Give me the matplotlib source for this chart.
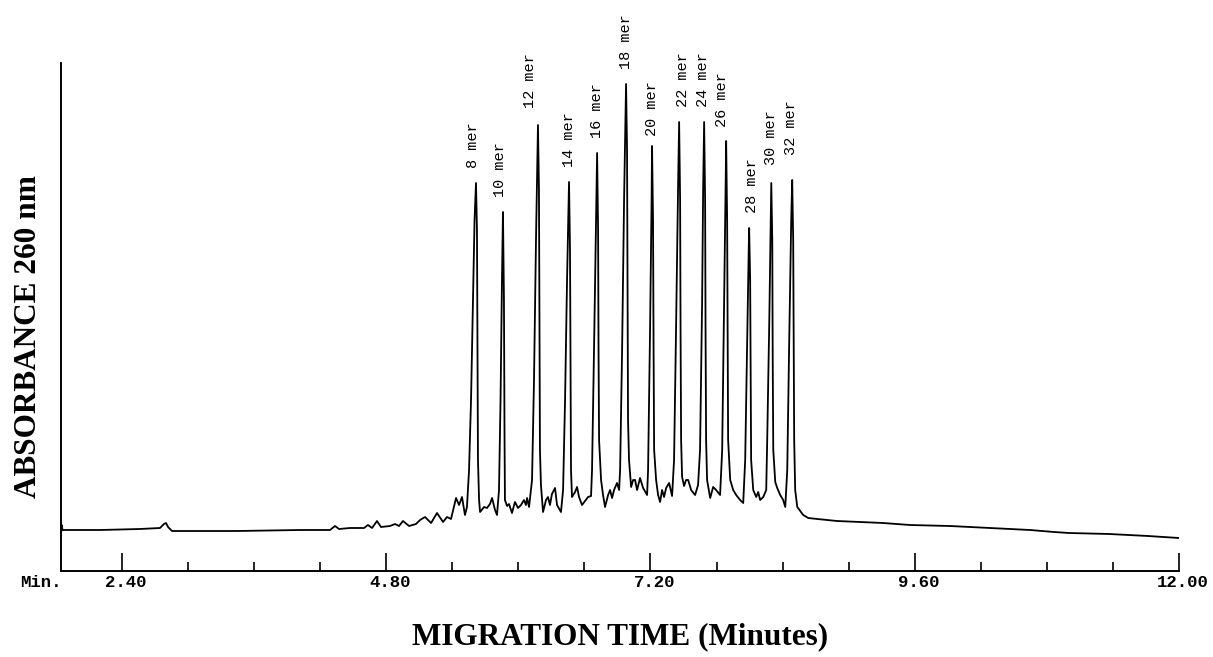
import numpy as np
import matplotlib
matplotlib.use('Agg')
import matplotlib.pyplot as plt
from matplotlib.transforms import ScaledTranslation

# electropherogram trace: migration time (min) / detector signal (arb.)
time_min = [
    1.846, 1.852, 1.860, 2.200, 2.563, 2.745, 2.781, 2.800, 2.818, 2.854, 3.445, 4.017, 4.289,
    4.335, 4.371, 4.471, 4.598, 4.634, 4.671, 4.716, 4.752, 4.834, 4.880, 4.916, 4.952, 5.007,
    5.070, 5.107, 5.152, 5.207, 5.261, 5.316, 5.352, 5.388, 5.434, 5.461, 5.488, 5.515, 5.533,
    # 8 mer
    5.552, 5.570, 5.588, 5.602, 5.615, 5.624, 5.629, 5.633, 5.643, 5.652,
    5.688, 5.715, 5.742, 5.761, 5.788, 5.806,
    # 10 mer
    5.824, 5.838, 5.851, 5.860, 5.869, 5.874, 5.878,
    5.897, 5.915, 5.942, 5.969, 5.997, 6.024, 6.051, 6.069, 6.079, 6.097,
    # 12 mer
    6.124, 6.142, 6.160, 6.174, 6.178, 6.187, 6.192, 6.196, 6.205,
    6.224, 6.251, 6.269, 6.287, 6.305, 6.333, 6.351, 6.387,
    # 14 mer
    6.406, 6.424, 6.442, 6.460, 6.469, 6.474, 6.478,
    6.487, 6.515, 6.533, 6.551, 6.578, 6.605, 6.633, 6.660,
    # 16 mer
    6.669, 6.687, 6.705, 6.715, 6.724, 6.728, 6.733,
    6.751, 6.769, 6.787, 6.815, 6.833, 6.851, 6.869, 6.896, 6.915,
    # 18 mer
    6.924, 6.942, 6.960, 6.974, 6.978, 6.987, 6.992, 6.996, 7.005,
    7.024, 7.042, 7.060, 7.078, 7.105, 7.133, 7.169,
    # 20 mer
    7.178, 7.196, 7.210, 7.214, 7.223, 7.228, 7.233,
    7.251, 7.269, 7.287, 7.305, 7.323, 7.342, 7.369, 7.396,
    # 22 mer
    7.414, 7.432, 7.450, 7.460, 7.469, 7.473, 7.478,
    7.487, 7.505, 7.523, 7.542, 7.569, 7.605, 7.632,
    # 24 mer
    7.650, 7.669, 7.678, 7.687, 7.696, 7.700, 7.705,
    7.714, 7.742, 7.769, 7.796, 7.832,
    # 26 mer
    7.851, 7.869, 7.883, 7.887, 7.896, 7.901, 7.905,
    7.924, 7.951, 7.978, 8.014, 8.042,
    # 28 mer
    8.060, 8.078, 8.092, 8.096, 8.105, 8.110, 8.114,
    8.133, 8.160, 8.178, 8.196, 8.224, 8.251,
    # 30 mer
    8.260, 8.279, 8.292, 8.297, 8.306, 8.310, 8.315,
    8.333, 8.351, 8.378, 8.405, 8.424,
    # 32 mer
    8.442, 8.460, 8.478, 8.487, 8.496, 8.501, 8.505, 8.514,
    8.533, 8.560, 8.587, 8.633, 8.715, 8.894, 9.103, 9.312, 9.557, 9.920,
    10.293, 10.647, 10.865, 11.001, 11.365, 11.719, 12.000,
]
signal = [
    37, 46, 41, 41, 42, 43, 47, 48, 44, 40, 40, 41, 41,
    45, 42, 43, 43, 46, 43, 50, 44, 45, 47, 45, 50, 45,
    47, 51, 54, 48, 58, 49, 54, 52, 73, 66, 74, 56, 64,
    101, 171, 271, 351, 388, 341, 221, 111, 71, 59,
    64, 63, 67, 73, 61, 56,
    81, 171, 291, 359, 271, 141, 71,
    65, 67, 58, 69, 63, 66, 71, 66, 73, 64,
    91, 191, 331, 421, 446, 381, 241, 121, 86,
    59, 71, 74, 66, 77, 83, 66, 59,
    81, 171, 291, 389, 321, 191, 101,
    74, 79, 84, 74, 66, 70, 74, 75,
    101, 221, 351, 418, 341, 221, 131,
    91, 76, 64, 76, 81, 73, 81, 88, 81,
    101, 221, 371, 461, 487, 421, 271, 151, 111,
    84, 91, 91, 81, 93, 83, 76,
    101, 241, 371, 425, 351, 221, 121,
    91, 76, 69, 81, 74, 83, 88, 75,
    111, 241, 381, 449, 371, 241, 131,
    94, 85, 91, 91, 81, 76, 86,
    121, 271, 381, 449, 371, 241, 131,
    91, 73, 84, 81, 76,
    121, 271, 391, 430, 351, 221, 131,
    91, 81, 76, 71, 68,
    111, 231, 321, 343, 291, 191, 111,
    81, 74, 79, 71, 74, 81,
    131, 251, 351, 388, 331, 211, 121,
    89, 83, 76, 71, 64,
    101, 231, 351, 391, 331, 211, 131, 81,
    64, 60, 56, 53, 52, 50, 49, 48, 46, 45,
    43, 41, 39, 38, 37, 35, 33,
]

peak_labels = ['8 mer', '10 mer', '12 mer', '14 mer', '16 mer', '18 mer', '20 mer',
               '22 mer', '24 mer', '26 mer', '28 mer', '30 mer', '32 mer']
peak_times = [5.615, 5.860, 6.178, 6.460, 6.715, 6.978, 7.214,
              7.460, 7.687, 7.887, 8.096, 8.297, 8.487]
# small nudges (points) of the printed labels, as on the original trace
label_dx = [-2, -2, -6, 0, 0, 0, 0, 3, -1, -3, 2, 0, -1]
label_dy = [11, 11, 12, 11, 11, 11, 7, 11, 11, 10, 11, 13, 18]

major_ticks = [2.40, 4.80, 7.20, 9.60, 12.00]
major_labels = ['2.40', '4.80', '7.20', '9.60', '12.00']
minor_ticks = [3.0, 3.6, 4.2, 5.4, 6.0, 6.6, 7.8, 8.4, 9.0, 10.2, 10.8, 11.4]

W, H = 1213, 657
fig = plt.figure(figsize=(W / 100, H / 100), dpi=100)
ax = fig.add_axes([61 / W, 1 - 571 / H, (1179 - 61) / W, (571 - 63) / H])

t = np.array(time_min)
s = np.array(signal)
ax.plot(t, s, color='black', lw=1.3, solid_joinstyle='round')

ax.set_xlim(time_min[0], 12.0)
ax.set_ylim(0, 508)

for sp in ['top', 'right']:
    ax.spines[sp].set_visible(False)
for sp in ['left', 'bottom']:
    ax.spines[sp].set_linewidth(1.4)

ax.set_yticks([])
ax.set_xticks(major_ticks)
ax.set_xticklabels(major_labels, family='Liberation Mono', weight='bold', fontsize=12.5)
ax.set_xticks(minor_ticks, minor=True)
ax.tick_params(axis='x', which='major', direction='in', length=13, width=1.2, pad=3)
ax.tick_params(axis='x', which='minor', direction='in', length=6.5, width=1.2)
shift = ScaledTranslation(4 / 100, 0, fig.dpi_scale_trans)
for lab in ax.get_xticklabels():
    lab.set_transform(lab.get_transform() + shift)

ax.text(0.0, 0.0, 'Min.', transform=ax.transAxes + ScaledTranslation(1 / 100, -4 / 100, fig.dpi_scale_trans),
        ha='right', va='top', family='Liberation Mono', weight='bold', fontsize=12.5)

# peak annotations
for lab, pt, dx, dy in zip(peak_labels, peak_times, label_dx, label_dy):
    win = (t > pt - 0.03) & (t < pt + 0.03)
    top = s[win].max()
    ax.annotate(lab, xy=(pt, top), xytext=(dx, dy), textcoords='offset points',
                rotation=90, ha='center', va='bottom',
                family='Liberation Mono', fontsize=11, annotation_clip=False)

fig.text(620 / W, 1 - 637 / H, 'MIGRATION TIME (Minutes)', ha='center', va='center',
         family='Liberation Serif', weight='bold', fontsize=22.5)
fig.text(29 / W, 1 - 337 / H, 'ABSORBANCE 260 nm', ha='center', va='center', rotation=90,
         family='Liberation Serif', weight='bold', fontsize=22.5)

fig.savefig('out.png', dpi=100, facecolor='white')
